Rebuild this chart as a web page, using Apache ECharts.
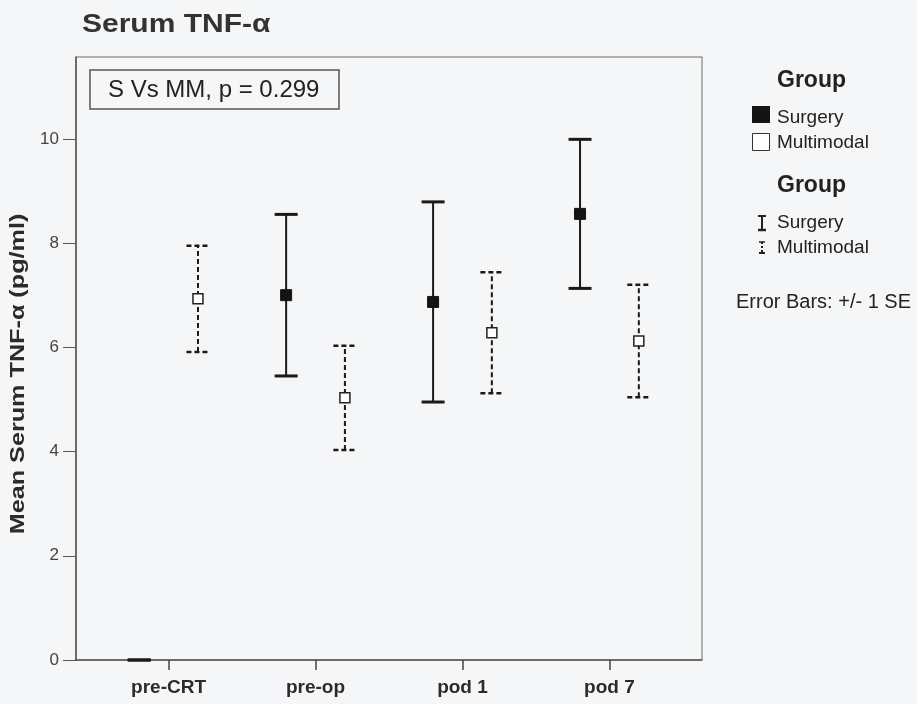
<!DOCTYPE html>
<html>
<head>
<meta charset="utf-8">
<script src="https://cdn.jsdelivr.net/npm/echarts@6/dist/echarts.min.js"></script>
<style>
  html, body { margin: 0; padding: 0; background: #f5f6f8; }
  #chart { width: 917px; height: 704px; }
</style>
</head>
<body>
<div id="chart"></div>
<script>
// Time points and group summaries (mean +/- 1 SE), serum TNF-α in pg/ml
const categories = ['pre-CRT', 'pre-op', 'pod 1', 'pod 7'];
const surgeryMean = [0, 7.0, 6.87, 8.56];
const surgerySE = [0, 1.55, 1.92, 1.43];
const multimodalMean = [6.93, 5.03, 6.28, 6.12];
const multimodalSE = [1.02, 1.0, 1.16, 1.08];
const yTicks = [0, 2, 4, 6, 8, 10];
const groupOffset = 0.2;

const chart = echarts.init(document.getElementById('chart'));

function errorData(means, ses, offset) {
  return means.map((m, i) => [i + offset, m - ses[i], m + ses[i], m]);
}
function meanData(means, offset) {
  return means.map((m, i) => [i + offset, m]);
}

// vertical whisker with a cap at each end
function makeErrorRenderer(style) {
  return function (params, api) {
    const x = api.value(0);
    const lo = api.coord([x, api.value(1)]);
    const hi = api.coord([x, api.value(2)]);
    const half = 11.5;
    return {
      type: 'group',
      children: [
        { type: 'line', shape: { x1: lo[0], y1: lo[1], x2: hi[0], y2: hi[1] },
          style: { stroke: '#1a1a1a', lineWidth: 2, lineDash: style.dash } },
        { type: 'line', shape: { x1: hi[0] - half, y1: hi[1], x2: hi[0] + half, y2: hi[1] },
          style: { stroke: '#1a1a1a', lineWidth: style.cap, lineDash: style.dash } },
        { type: 'line', shape: { x1: lo[0] - half, y1: lo[1], x2: lo[0] + half, y2: lo[1] },
          style: { stroke: '#1a1a1a', lineWidth: style.cap, lineDash: style.dash } }
      ]
    };
  };
}

const sans = 'Liberation Sans, Arial, sans-serif';
const textColor = '#2b2b2b';

const option = {
  backgroundColor: '#f5f6f8',
  animation: false,
  grid: {
    left: 76, right: 215, top: 57, bottom: 44,
    show: true, borderColor: '#6a6a6a', borderWidth: 1, backgroundColor: 'transparent'
  },
  xAxis: {
    type: 'value', min: -0.63, max: 3.63,
    axisLine: { show: true, onZero: false, lineStyle: { color: '#555', width: 1.5 } },
    axisTick: { show: true, length: 10, customValues: [0, 1, 2, 3], lineStyle: { color: '#444', width: 1.5 } },
    axisLabel: {
      customValues: [0, 1, 2, 3],
      formatter: v => categories[Math.round(v)],
      margin: 18,
      fontFamily: sans, fontWeight: 'bold', fontSize: 19, color: textColor
    },
    splitLine: { show: false }
  },
  yAxis: {
    type: 'value', min: 0, max: 11.57,
    axisLine: { show: true, onZero: false, lineStyle: { color: '#555', width: 1.5 } },
    axisTick: { show: true, length: 13, customValues: yTicks, lineStyle: { color: '#555' } },
    axisLabel: {
      customValues: yTicks, margin: 17,
      fontFamily: sans, fontSize: 17, color: '#444'
    },
    splitLine: { show: false }
  },
  series: [
    {
      name: 'Surgery SE', type: 'custom',
      renderItem: makeErrorRenderer({ dash: null, cap: 3 }),
      data: errorData(surgeryMean, surgerySE, -groupOffset),
      encode: { x: 0, y: [1, 2] }, z: 2
    },
    {
      name: 'Multimodal SE', type: 'custom',
      renderItem: makeErrorRenderer({ dash: [5, 3], cap: 2.5 }),
      data: errorData(multimodalMean, multimodalSE, groupOffset),
      encode: { x: 0, y: [1, 2] }, z: 2
    },
    {
      name: 'Surgery', type: 'scatter', symbol: 'rect',
      symbolSize: v => (v[1] > 0 ? 11 : 0),
      itemStyle: { color: '#141414', borderColor: '#141414', borderWidth: 1, opacity: 1 },
      data: meanData(surgeryMean, -groupOffset), z: 3
    },
    {
      name: 'Multimodal', type: 'scatter', symbol: 'rect', symbolSize: 10,
      itemStyle: { color: '#ffffff', borderColor: '#222', borderWidth: 1.5, opacity: 1 },
      data: meanData(multimodalMean, groupOffset), z: 3
    }
  ],
  graphic: [
    // chart title
    { type: 'text', x: 82, y: 25, scaleX: 1.2,
      style: { text: 'Serum TNF-α', fontFamily: sans, fontSize: 25, fontWeight: 'bold',
               fill: '#333', textVerticalAlign: 'middle' } },
    // y-axis title
    { type: 'text', x: 18, y: 374, rotation: Math.PI / 2, scaleX: 1.2,
      style: { text: 'Mean Serum TNF-α (pg/ml)', fontFamily: sans, fontSize: 21, fontWeight: 'bold',
               fill: textColor, textAlign: 'center', textVerticalAlign: 'middle' } },
    // p-value annotation box
    { type: 'rect', shape: { x: 90, y: 70, width: 249, height: 39 },
      style: { fill: 'transparent', stroke: '#555', lineWidth: 1.5 } },
    { type: 'text', x: 108, y: 90,
      style: { text: 'S Vs MM, p = 0.299', fontFamily: sans, fontSize: 24,
               fill: '#222', textVerticalAlign: 'middle' } },
    // legend: mean markers
    { type: 'text', x: 777, y: 81, style: { text: 'Group', fontFamily: sans, fontSize: 23, fontWeight: 'bold', fill: '#222', textVerticalAlign: 'middle' } },
    { type: 'rect', shape: { x: 752, y: 106, width: 18, height: 17 }, style: { fill: '#141414' } },
    { type: 'text', x: 777, y: 118, style: { text: 'Surgery', fontFamily: sans, fontSize: 19, fill: '#222', textVerticalAlign: 'middle' } },
    { type: 'rect', shape: { x: 752.5, y: 133.5, width: 17, height: 17 }, style: { fill: '#fff', stroke: '#333', lineWidth: 1 } },
    { type: 'text', x: 777, y: 143, style: { text: 'Multimodal', fontFamily: sans, fontSize: 19, fill: '#222', textVerticalAlign: 'middle' } },
    // legend: error bars
    { type: 'text', x: 777, y: 186, style: { text: 'Group', fontFamily: sans, fontSize: 23, fontWeight: 'bold', fill: '#222', textVerticalAlign: 'middle' } },
    { type: 'line', shape: { x1: 762, y1: 216, x2: 762, y2: 230 }, style: { stroke: '#222', lineWidth: 2 } },
    { type: 'line', shape: { x1: 758, y1: 216, x2: 766, y2: 216 }, style: { stroke: '#222', lineWidth: 2 } },
    { type: 'line', shape: { x1: 758, y1: 230, x2: 766, y2: 230 }, style: { stroke: '#222', lineWidth: 2.5 } },
    { type: 'text', x: 777, y: 223, style: { text: 'Surgery', fontFamily: sans, fontSize: 19, fill: '#222', textVerticalAlign: 'middle' } },
    { type: 'line', shape: { x1: 762, y1: 242, x2: 762, y2: 253 }, style: { stroke: '#222', lineWidth: 2, lineDash: [2, 2] } },
    { type: 'line', shape: { x1: 759, y1: 242, x2: 765, y2: 242 }, style: { stroke: '#222', lineWidth: 1.5 } },
    { type: 'line', shape: { x1: 759, y1: 253, x2: 765, y2: 253 }, style: { stroke: '#222', lineWidth: 2 } },
    { type: 'text', x: 777, y: 248, style: { text: 'Multimodal', fontFamily: sans, fontSize: 19, fill: '#222', textVerticalAlign: 'middle' } },
    { type: 'text', x: 736, y: 302, style: { text: 'Error Bars: +/- 1 SE', fontFamily: sans, fontSize: 20, fill: '#222', textVerticalAlign: 'middle' } }
  ]
};

chart.setOption(option);
</script>
</body>
</html>
